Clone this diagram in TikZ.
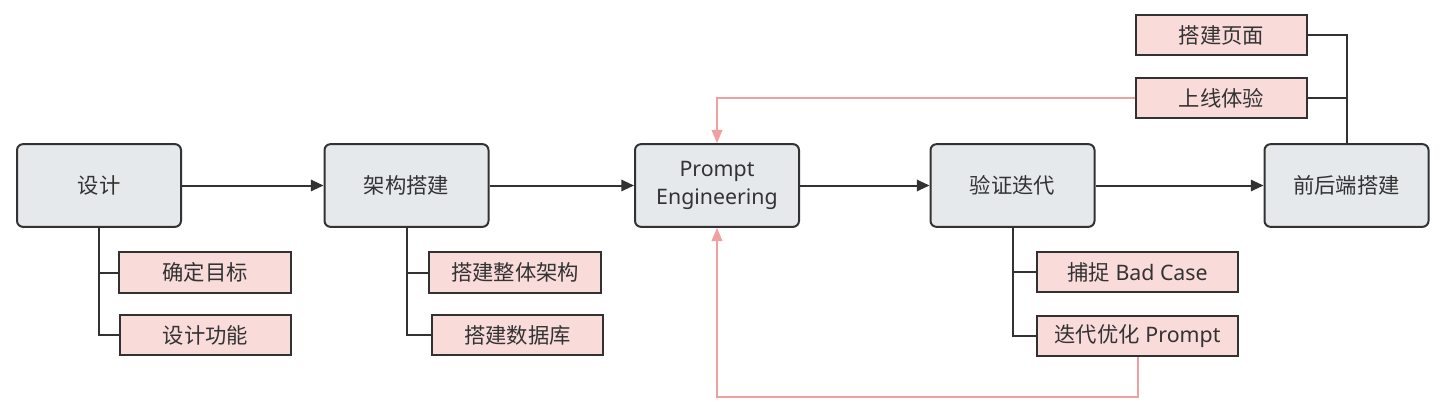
\documentclass[tikz,border=0pt]{standalone}
\usepackage{fontspec}
\setmainfont{Noto Sans}
\newfontfamily\cjk{Noto Sans CJK SC}
\usepackage{tikz}
\usetikzlibrary{arrows.meta}

\definecolor{boxgray}{HTML}{E6E9EC}
\definecolor{boxpink}{HTML}{F9DBDA}
\definecolor{linedark}{HTML}{323232}
\definecolor{linepink}{HTML}{F0A0A0}
\definecolor{textdark}{HTML}{333333}

\begin{document}
\begin{tikzpicture}[x=.75pt, y=-.75pt,
  stage/.style={draw=linedark, line width=1.5pt, fill=boxgray, rounded corners=4.5pt,
    minimum width=123pt, minimum height=62pt, align=center, text=textdark,
    font=\fontsize{16}{20.5}\selectfont},
  task/.style={draw=linedark, line width=1.5pt, fill=boxpink,
    minimum width=128.5pt, minimum height=30.5pt, text=textdark,
    font=\fontsize{16}{20.5}\selectfont},
  flow/.style={draw=linedark, line width=1.5pt, -{Triangle[length=9.5pt, width=8.5pt]}},
  branch/.style={draw=linedark, line width=1.5pt},
  back/.style={draw=linepink, line width=1.5pt, -{Triangle[length=10pt, width=8pt]}}]

\useasboundingbox (0,0) rectangle (1445,410);

% main stages
\node[stage] (design)    at (99,185.5)   {\cjk 设计};
\node[stage] (arch)      at (406.5,185.5) {\cjk 架构搭建};
\node[stage] (prompt)    at (717,185.5)  {Prompt\\Engineering};
\node[stage] (verify)    at (1012.5,185.5) {\cjk 验证迭代};
\node[stage] (fullstack) at (1346.5,185.5) {\cjk 前后端搭建};

% tasks
\node[task] (goal)   at (205,272.5) {\cjk 确定目标};
\node[task] (func)   at (205.5,335) {\cjk 设计功能};
\node[task] (archall) at (515,272.5) {\cjk 搭建整体架构};
\node[task] (db)     at (517.5,335) {\cjk 搭建数据库};
\node[task, minimum width=151pt] (badcase)    at (1137.5,272) {{\cjk 捕捉} Bad Case};
\node[task, minimum width=151pt] (iterprompt) at (1137.5,336) {{\cjk 迭代优化} Prompt};
\node[task] (page)   at (1221.5,35) {\cjk 搭建页面};
\node[task] (online) at (1221.5,98) {\cjk 上线体验};

\draw[flow] (design) -- (arch);
\draw[flow] (arch) -- (prompt);
\draw[flow] (prompt) -- (verify);
\draw[flow] (verify) -- (fullstack);

\draw[branch]
  (design.south) |- (goal.west);
\draw[branch]
  (design.south) |- (func.west);

\draw[branch]
  (arch.south) |- (archall.west);
\draw[branch]
  (arch.south) |- (db.west);

\draw[branch]
  (verify.south) |- (badcase.west);
\draw[branch]
  (verify.south) |- (iterprompt.west);

\draw[branch]
  (fullstack.north) |- (page.east);
\draw[branch]
  (fullstack.north) |- (online.east);

% feedback
\draw[back]
  (online.west) -| (prompt.north);
\draw[back]
  (iterprompt.south) -- ++(0,40) -| (prompt.south);

\end{tikzpicture}
\end{document}
